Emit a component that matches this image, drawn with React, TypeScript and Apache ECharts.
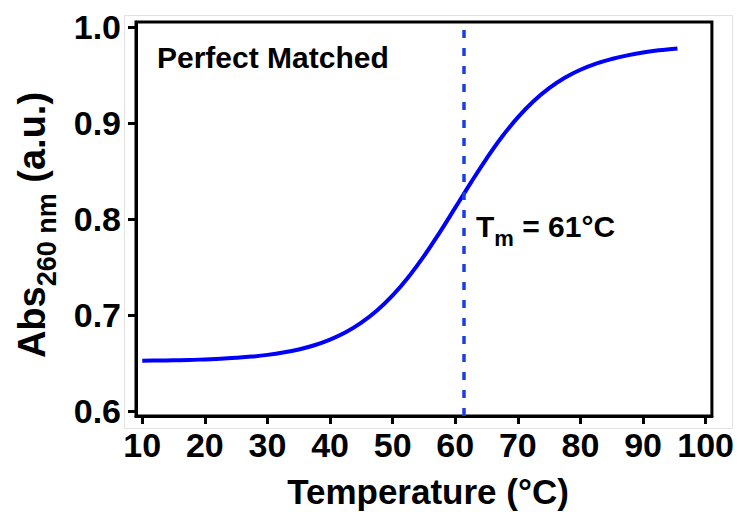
import React, { useEffect, useRef } from "react";
import * as echarts from "echarts";

const temps = [10, 12.5, 15, 17.5, 20, 22.5, 25, 27.5, 30, 32.5, 35, 37.5, 40, 42.5, 45, 47.5, 50, 52.5, 55, 57.5, 60, 62.5, 65, 67.5, 70, 72.5, 75, 77.5, 80, 82.5, 85, 87.5, 90, 92.5, 95.5];
const absVals = [0.6525, 0.6527, 0.653, 0.6533, 0.6539, 0.6545, 0.6555, 0.6568, 0.6586, 0.661, 0.6642, 0.6686, 0.6745, 0.6821, 0.6921, 0.7048, 0.7205, 0.7395, 0.7614, 0.7859, 0.8118, 0.8379, 0.8629, 0.8858, 0.9057, 0.9225, 0.9362, 0.947, 0.9553, 0.9617, 0.9665, 0.9703, 0.9732, 0.9755, 0.9775];
const xTicks = [10, 20, 30, 40, 50, 60, 70, 80, 90, 100];
const yTicks = [0.6, 0.7, 0.8, 0.9, 1.0];
const tmValue = 61.3;
const FONT = "'Liberation Sans', Arial, Helvetica, sans-serif";

export default function App() {
  const ref = useRef<HTMLDivElement>(null);
  useEffect(() => {
    if (!ref.current) return;
    const chart = echarts.init(ref.current, null, { renderer: "svg" });
    const data = temps.map((t, i) => [t, absVals[i]]);
    chart.setOption({
      animation: false,
      backgroundColor: "#fff",
      grid: {
        left: 136,
        right: 25,
        top: 22,
        bottom: 96,
        show: true,
        borderColor: "#000",
        borderWidth: 3,
        backgroundColor: "transparent",
      },
      xAxis: {
        type: "value",
        min: 9,
        max: 101,
        axisLine: { show: true, lineStyle: { color: "#000", width: 3 } },
        splitLine: { show: false },
        axisTick: {
          show: true,
          customValues: xTicks,
          length: 8,
          inside: false,
          lineStyle: { color: "#000", width: 3 },
        },
        axisLabel: {
          customValues: xTicks,
          color: "#000",
          fontSize: 34,
          fontWeight: "bold",
          fontFamily: FONT,
          margin: 12,
        },
      },
      yAxis: {
        type: "value",
        min: 0.595,
        max: 1.005,
        axisLine: { show: true, lineStyle: { color: "#000", width: 3 } },
        splitLine: { show: false },
        axisTick: {
          show: true,
          customValues: yTicks,
          length: 8,
          inside: false,
          lineStyle: { color: "#000", width: 3 },
        },
        axisLabel: {
          customValues: yTicks,
          formatter: (v: number) => v.toFixed(1),
          color: "#000",
          fontSize: 34,
          fontWeight: "bold",
          fontFamily: FONT,
          margin: 15,
        },
      },
      series: [
        {
          type: "line",
          data,
          smooth: 0.4,
          showSymbol: false,
          lineStyle: { color: "#0000ff", width: 4 },
          markLine: {
            silent: true,
            symbol: "none",
            label: { show: false },
            lineStyle: { color: "#1b3fe6", width: 3.5, type: [8, 10] },
            data: [{ xAxis: tmValue }],
          },
        },
      ],
      graphic: [
        {
          type: "rect",
          shape: { x: 124.5, y: 15.5, width: 608, height: 413 },
          style: { fill: "none", stroke: "#e2e2e2", lineWidth: 1 },
          z: -1,
        },
        {
          type: "text",
          x: 157,
          y: 57,
          style: {
            text: "Perfect Matched",
            font: `bold 30px ${FONT}`,
            fill: "#000",
            align: "left",
            verticalAlign: "middle",
          },
        },
        {
          type: "text",
          x: 476,
          y: 226,
          style: {
            text: "{a|T}{b|m}{a| = 61°C}",
            fill: "#000",
            align: "left",
            verticalAlign: "middle",
            rich: {
              a: { font: `bold 30px ${FONT}`, fill: "#000", verticalAlign: "bottom", lineHeight: 30 },
              b: { font: `bold 22px ${FONT}`, fill: "#000", verticalAlign: "bottom", lineHeight: 30, padding: [0, 0, -8, 0] },
            },
          },
        },
        {
          type: "text",
          x: 428,
          y: 491,
          style: {
            text: "Temperature (°C)",
            font: `bold 35px ${FONT}`,
            fill: "#000",
            align: "center",
            verticalAlign: "middle",
          },
        },
        {
          type: "text",
          x: 31,
          y: 225,
          rotation: Math.PI / 2,
          style: {
            text: "{a|Abs}{b|260 nm}{a| (a.u.)}",
            fill: "#000",
            align: "center",
            verticalAlign: "middle",
            rich: {
              a: { font: `bold 38px ${FONT}`, fill: "#000", verticalAlign: "bottom", lineHeight: 40 },
              b: { font: `bold 27px ${FONT}`, fill: "#000", verticalAlign: "bottom", lineHeight: 40, padding: [0, 0, -9, 0] },
            },
          },
        },
      ],
    });
    return () => chart.dispose();
  }, []);
  return (
    <div
      ref={ref}
      style={{ position: "absolute", left: 0, top: 0, width: 737, height: 512 }}
    />
  );
}
